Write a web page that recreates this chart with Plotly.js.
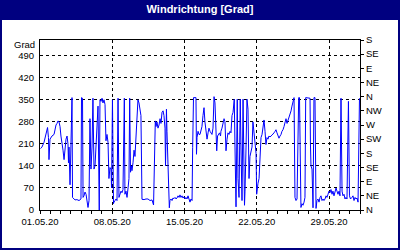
<!DOCTYPE html>
<html>
<head>
<meta charset="utf-8">
<script src="https://cdn.plot.ly/plotly-3.0.1.min.js"></script>
<style>html,body{margin:0;padding:0;background:#fff;}#chart{width:400px;height:250px;}</style>
</head>
<body>
<div id="chart"></div>
<script>
// Day offsets since 01.05.2020 00:00
const days = [0.05,0.19,0.39,0.53,0.63,0.73,0.82,0.87,0.97,1.07,1.16,1.36,1.45,1.55,1.65,1.74,1.84,1.94,2.03,2.13,2.23,2.33,2.42,2.52,2.62,2.71,2.76,2.81,2.91,3.00,3.10,3.15,3.25,3.39,3.58,3.78,3.97,4.02,4.12,4.17,4.26,4.36,4.46,4.55,4.65,4.75,4.84,4.94,5.04,5.13,5.23,5.33,5.42,5.52,5.62,5.74,5.81,5.91,6.01,6.10,6.20,6.30,6.39,6.49,6.59,6.68,6.78,6.88,6.93,7.02,7.12,7.17,7.27,7.36,7.46,7.56,7.65,7.75,7.85,7.94,8.04,8.17,8.23,8.33,8.43,8.53,8.62,8.69,8.77,8.86,8.91,9.01,9.11,9.20,9.40,9.49,9.59,9.69,9.78,9.88,10.08,10.27,10.46,10.66,10.85,11.00,11.07,11.17,11.24,11.33,11.43,11.53,11.63,11.72,11.82,11.92,12.01,12.11,12.16,12.25,12.30,12.40,12.47,12.53,12.59,12.69,12.79,12.88,12.98,13.08,13.18,13.27,13.37,13.47,13.56,13.66,13.76,13.85,13.95,14.05,14.14,14.24,14.34,14.43,14.53,14.63,14.73,14.79,14.87,15.02,15.11,15.16,15.21,15.31,15.40,15.50,15.60,15.69,15.79,15.89,15.98,16.08,16.18,16.28,16.37,16.47,16.57,16.66,16.76,16.86,16.95,17.05,17.12,17.20,17.29,17.39,17.49,17.53,17.63,17.73,17.83,17.92,18.02,18.12,18.21,18.31,18.41,18.50,18.60,18.70,18.82,18.89,18.99,19.11,19.18,19.28,19.40,19.47,19.57,19.67,19.76,19.81,19.86,19.96,20.05,20.15,20.25,20.34,20.44,20.54,20.63,20.73,20.83,20.93,20.99,21.07,21.12,21.22,21.31,21.41,21.51,21.60,21.70,21.80,21.89,21.99,22.09,22.18,22.28,22.48,22.57,22.67,22.77,22.86,22.96,23.06,23.15,23.25,23.35,23.44,23.54,23.64,23.73,23.83,23.93,24.03,24.12,24.22,24.32,24.41,24.51,24.61,24.70,24.80,24.90,25.06,25.14,25.24,25.28,25.38,25.48,25.58,25.67,25.74,25.96,26.06,26.16,26.20,26.25,26.35,26.45,26.54,26.64,26.74,26.83,26.93,27.03,27.13,27.22,27.32,27.42,27.51,27.61,27.71,27.80,27.90,28.00,28.09,28.19,28.29,28.38,28.48,28.58,28.68,28.77,28.87,28.97,29.06,29.16,29.26,29.35,29.45,29.55,29.64,29.74,29.88,29.98,30.08,30.22,30.32,30.42,30.52,30.61,30.71,30.81,30.95];
// Wind direction in degrees
const direction = [195,200,215,235,255,262,230,160,225,230,235,240,260,270,275,283,280,265,235,215,190,160,200,225,235,210,150,200,80,190,357,40,35,32,33,30,35,357,355,40,45,57,50,35,8,30,290,130,200,355,130,140,200,300,330,0,350,345,355,340,350,335,220,240,215,100,135,130,70,350,20,25,30,35,30,355,40,50,60,55,65,355,50,60,40,70,100,355,120,140,125,150,190,170,325,350,340,320,300,34,33,35,35,30,32,16,140,283,265,280,260,270,290,275,310,315,300,260,140,320,250,140,140,7,30,35,30,38,36,40,35,38,45,40,48,40,45,38,42,35,40,35,45,30,25,35,30,198,357,357,357,177,230,250,240,240,255,265,300,325,280,240,225,245,260,250,245,240,260,360,340,270,188,235,240,245,235,250,260,280,290,280,188,225,245,240,250,245,300,310,352,200,10,352,100,40,352,200,30,352,150,15,60,200,352,320,100,170,185,200,280,240,200,180,50,80,85,100,180,230,240,260,286,250,208,230,225,235,232,238,240,245,250,255,245,232,228,235,240,250,255,265,280,290,275,285,290,305,315,330,340,357,40,30,35,357,357,25,8,20,15,25,40,357,357,357,355,210,140,130,7,357,357,5,30,35,25,40,45,30,35,30,35,45,40,50,60,55,65,50,60,45,55,70,60,50,60,45,355,60,45,50,35,40,35,345,45,35,40,45,30,40,35,38,25,355];
const dateTicks = ['2020-05-01','2020-05-08','2020-05-15','2020-05-22','2020-05-29'];
const dateLabels = ['01.05.20','08.05.20','15.05.20','22.05.20','29.05.20'];
const degTicks = [0,70,140,210,280,350,420,490];
const degLabels = ['0','70','140','210','280','350','420','490'];
const compassTicks = [0,45,90,135,180,225,270,315,360,405,450,495,540];
const compassLabels = ['N','NE','E','SE','S','SW','W','NW','N','NE','E','SE','S'];

const start = Date.UTC(2020,4,1);
const times = days.map(d => {
  const t = new Date(start + d*86400000);
  return t.toISOString().replace('T',' ').slice(0,19);
});

const FONT = 'Liberation Sans, Arial, sans-serif';
const FS = 9.5;
const traces = [
  {x: times, y: direction, type:'scatter', mode:'lines', line:{color:'#0000ff', width:1}, hoverinfo:'skip'},
  {x: [], y: [], type:'scatter', mode:'lines', yaxis:'y2', hoverinfo:'skip'}
];
const layout = {
  width:400, height:250,
  margin:{l:40, r:40, t:40, b:40, pad:0},
  paper_bgcolor:'#ffffff', plot_bgcolor:'#ffffff',
  showlegend:false,
  font:{family:FONT, size:FS, color:'#000'},
  title:{text:'Windrichtung [Grad]', font:{family:FONT, size:11, color:'#ffffff', weight:'bold'},
         x:0.5, xanchor:'center', y:1-9.5/250, yref:'container', yanchor:'middle'},
  xaxis:{type:'date', range:['2020-05-01','2020-06-01'],
         tickmode:'array', tickvals:dateTicks, ticktext:dateLabels,
         ticks:'outside', ticklen:3, tickcolor:'#000', tickwidth:1,
         showgrid:true, gridcolor:'#000', gridwidth:1, griddash:'3px,3px',
         showline:true, linecolor:'#000', linewidth:1, mirror:true, zeroline:false,
         tickfont:{family:FONT, size:FS, color:'#000'},
         minor:{tickmode:'linear', tick0:'2020-05-01', dtick:86400000, ticks:'outside', ticklen:3, tickcolor:'#000', showgrid:false}},
  yaxis:{range:[0,540], tickmode:'array', tickvals:degTicks, ticktext:degLabels,
         ticks:'outside', ticklen:3, tickcolor:'rgba(0,0,0,0)',
         showgrid:true, gridcolor:'#000', gridwidth:1, griddash:'3px,3px',
         showline:true, linecolor:'#000', linewidth:1, mirror:true, zeroline:false,
         tickfont:{family:FONT, size:FS, color:'#000'}},
  yaxis2:{range:[0,540], overlaying:'y', side:'right', tickmode:'array', tickvals:compassTicks, ticktext:compassLabels,
          ticks:'outside', ticklen:3, tickcolor:'#000', showgrid:false, zeroline:false, showline:false,
          tickfont:{family:FONT, size:FS, color:'#000'}},
  shapes:[
    {type:'rect', xref:'paper', yref:'paper', x0:-0.125, x1:1.125, y0:190/170, y1:210/170, fillcolor:'#000080', line:{width:0}, layer:'below'},
    {type:'rect', xref:'paper', yref:'paper', x0:-39/320, x1:1+39/320, y0:-39/170, y1:209/170, fillcolor:'rgba(0,0,0,0)', line:{color:'#000080', width:2}}
  ],
  annotations:[
    {text:'Grad', xref:'paper', yref:'paper', x:0, y:1, xanchor:'right', yanchor:'middle', xshift:-4, yshift:-4.5, showarrow:false, borderpad:0, font:{family:FONT, size:FS, color:'#000'}}
  ]
};
Plotly.newPlot('chart', traces, layout, {staticPlot:true, displayModeBar:false});
</script>
</body>
</html>
